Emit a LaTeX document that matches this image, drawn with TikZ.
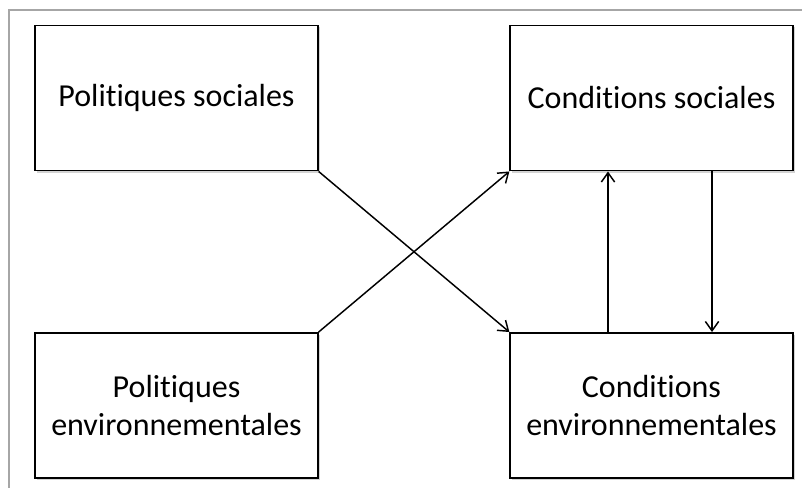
\documentclass[tikz,border=0pt]{standalone}
\usepackage{fontspec}
\setmainfont{Carlito}[Ligatures=NoCommon]
\usetikzlibrary{arrows.meta,shadows}

\tikzset{
	boite/.style={draw=black, line width=1.2pt, fill=white, minimum width=212pt, minimum height=109pt,
		align=center, font=\fontsize{24}{28.5}\selectfont,
		drop shadow={shadow xshift=1.5pt, shadow yshift=-1.5pt, opacity=0.35}},
	fleche/.style={line width=1.1pt, -{Straight Barb[length=7pt, width=10pt]}}
}

\begin{document}
\begin{tikzpicture}[x=0.75pt, y=-0.75pt]
		\useasboundingbox (0,0) rectangle (802,488);
		\draw[line width=2.2pt, color=black!35] (9,488)--(9,10)--(802,10);

		\node[boite] (polsoc) at (176.5,98) {Politiques sociales};
		\node[boite] (condsoc) at (651.5,98) {Conditions sociales};
		\node[boite] (polenv) at (176.5,405.5) {Politiques\\environnementales};
		\node[boite] (condenv) at (651.5,405.5) {Conditions\\environnementales};

		\coordinate (haut) at (608,250);
		\coordinate (bas) at (712,250);

		\draw[fleche] (polsoc.south east) -- (condenv.north west);
		\draw[fleche] (polenv.north east) -- (condsoc.south west);
		\draw[fleche] (condenv.north -| haut) -- (condsoc.south -| haut);
		\draw[fleche] (condsoc.south -| bas) -- (condenv.north -| bas);

	\end{tikzpicture}
\end{document}
